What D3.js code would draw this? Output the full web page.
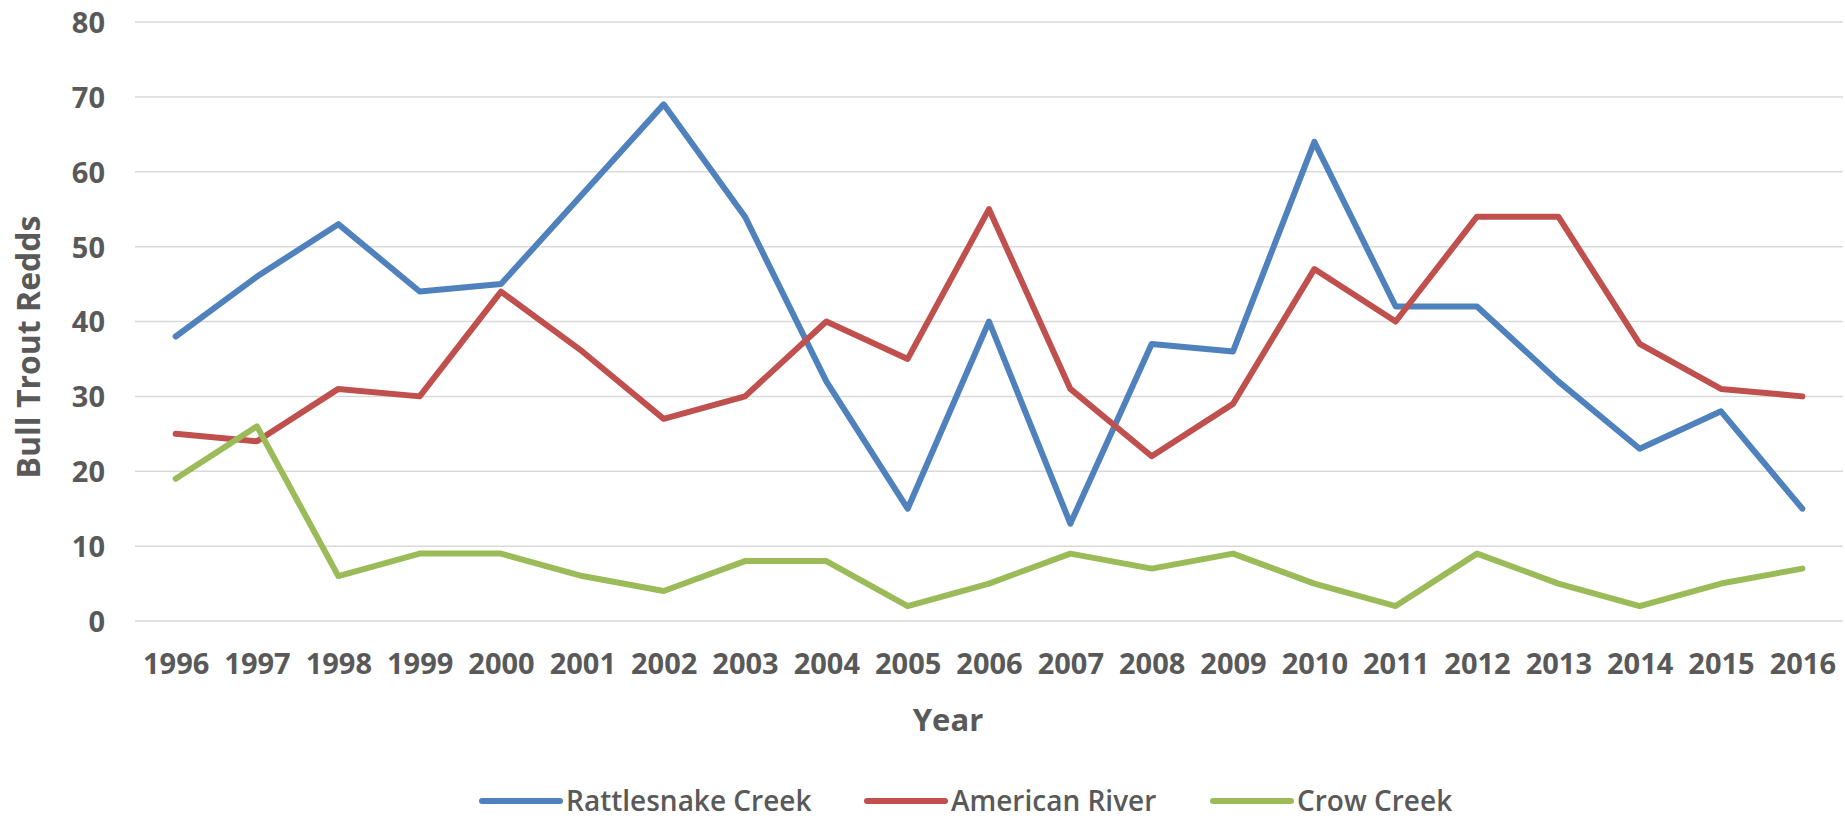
<!DOCTYPE html>
<html>
<head>
<meta charset="utf-8">
<script src="https://cdn.jsdelivr.net/npm/d3@7"></script>
<style>
  body { margin: 0; background: #fff; }
  svg text { font-family: "Open Sans", "Noto Sans", sans-serif; fill: #595959; }
</style>
</head>
<body>
<svg id="chart" width="1845" height="820"></svg>
<script>
const years = ["1996","1997","1998","1999","2000","2001","2002","2003","2004","2005","2006",
               "2007","2008","2009","2010","2011","2012","2013","2014","2015","2016"];
const rattlesnake = [38,46,53,44,45,57,69,54,32,15,40,13,37,36,64,42,42,32,23,28,15];
const american    = [25,24,31,30,44,36,27,30,40,35,55,31,22,29,47,40,54,54,37,31,30];
const crow        = [19,26,6,9,9,6,4,8,8,2,5,9,7,9,5,2,9,5,2,5,7];
const seriesNames = ["Rattlesnake Creek", "American River", "Crow Creek"];
const yTicks = [0,10,20,30,40,50,60,70,80];

const colors = ["#4F81BD", "#C0504D", "#9BBB59"];
const series = [rattlesnake, american, crow];

const svg = d3.select("#chart");
const margin = {top: 22, right: 2, bottom: 199, left: 135};
const width = 1845, height = 820;

const xScale = d3.scalePoint()
    .domain(years)
    .range([margin.left, width - margin.right])
    .padding(0.5);

const yScale = d3.scaleLinear()
    .domain([0, 80])
    .range([height - margin.bottom, margin.top]);

// gridlines
svg.append("g")
    .selectAll("line")
    .data(yTicks)
    .join("line")
    .attr("x1", margin.left)
    .attr("x2", width - margin.right)
    .attr("y1", d => yScale(d))
    .attr("y2", d => yScale(d))
    .attr("stroke", "#d9d9d9")
    .attr("stroke-width", 1.5);

// y axis labels
const yAxis = svg.append("g")
    .attr("transform", `translate(${margin.left - 30},0)`)
    .call(d3.axisLeft(yScale).tickValues(yTicks).tickSize(0).tickPadding(0));
yAxis.select(".domain").remove();
yAxis.selectAll("text")
    .attr("font-size", 29)
    .attr("font-weight", "bold")
    .attr("fill", "#595959")
    .attr("font-family", null)
    .attr("dy", "0.36em");

// x axis labels
const xAxis = svg.append("g")
    .attr("transform", `translate(0,${yScale(0) + 32})`)
    .call(d3.axisBottom(xScale).tickSize(0).tickPadding(0));
xAxis.select(".domain").remove();
xAxis.selectAll("text")
    .attr("font-size", 29)
    .attr("font-weight", "bold")
    .attr("fill", "#595959")
    .attr("font-family", null)
    .attr("dy", "0.71em");

// lines
const line = d3.line()
    .x((d, i) => xScale(years[i]))
    .y(d => yScale(d));

svg.append("g")
    .selectAll("path")
    .data(series)
    .join("path")
    .attr("d", d => line(d))
    .attr("fill", "none")
    .attr("stroke", (d, i) => colors[i])
    .attr("stroke-width", 6)
    .attr("stroke-linejoin", "round")
    .attr("stroke-linecap", "round");

// axis titles
svg.append("text")
    .attr("x", 948)
    .attr("y", 731)
    .attr("text-anchor", "middle")
    .attr("font-size", 31)
    .attr("font-weight", "bold")
    .text("Year");

svg.append("text")
    .attr("transform", "translate(40,347) rotate(-90)")
    .attr("text-anchor", "middle")
    .attr("font-size", 32)
    .attr("font-weight", "bold")
    .text("Bull Trout Redds");

// legend
const legendX = [482, 867, 1213];
const legend = svg.append("g")
    .selectAll("g")
    .data(seriesNames)
    .join("g")
    .attr("transform", (d, i) => `translate(${legendX[i]},801)`);

legend.append("line")
    .attr("x1", 0).attr("x2", 78)
    .attr("stroke", (d, i) => colors[i])
    .attr("stroke-width", 6)
    .attr("stroke-linecap", "round");

legend.append("text")
    .attr("x", 84)
    .attr("y", 10)
    .attr("font-size", 28)
    .attr("font-weight", 600)
    .text(d => d);
</script>
</body>
</html>
